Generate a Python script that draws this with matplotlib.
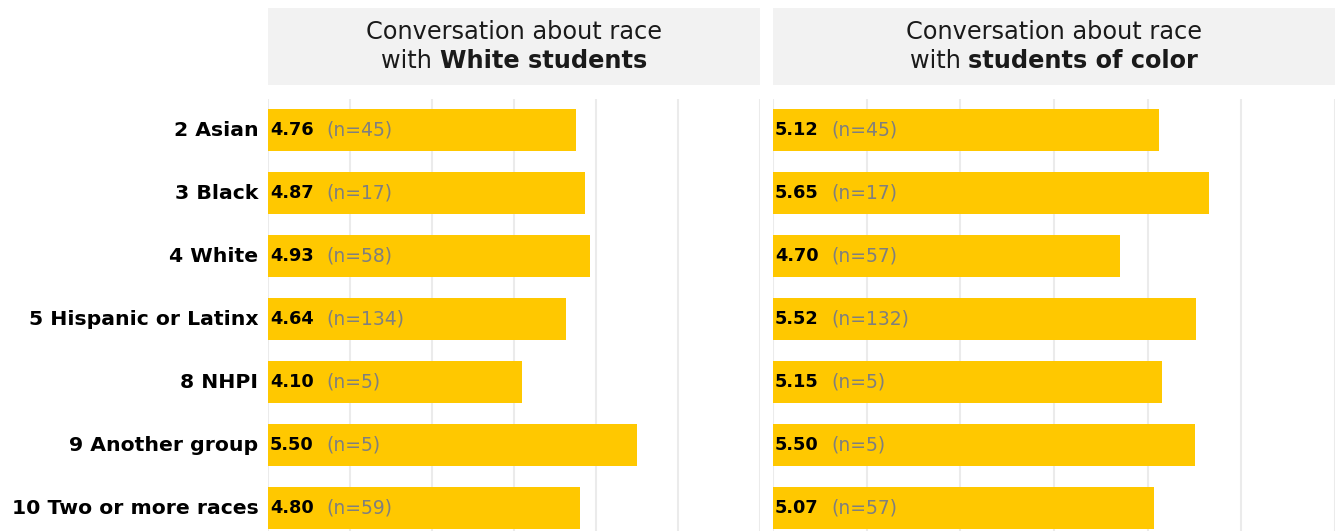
import matplotlib as mpl
import matplotlib.pyplot as plt

mpl.rcParams['font.family'] = ['DejaVu Sans']

# data
groups = ["2 Asian", "3 Black", "4 White", "5 Hispanic or Latinx",
          "8 NHPI", "9 Another group", "10 Two or more races"]
white_means = [4.76, 4.87, 4.93, 4.64, 4.10, 5.50, 4.80]
white_n = [45, 17, 58, 134, 5, 5, 59]
color_means = [5.12, 5.65, 4.70, 5.52, 5.15, 5.50, 5.07]
color_n = [45, 17, 57, 132, 5, 5, 57]
titles = [("Conversation about race", "White students"),
          ("Conversation about race", "students of color")]

BAR = '#FFC800'
STRIP = '#F2F2F2'
GRID = '#EBEBEB'
HEAD_FS = 17.3

W, H = 1338, 531
fig = plt.figure(figsize=(W / 100, H / 100), dpi=100)
renderer = fig.canvas.get_renderer()

def fx(px):
    return px / W

def fy(py):
    return 1 - py / H

panels = [(268, 760), (773, 1335)]
top, bottom = 98.5, 539.5

for i, ((x0, x1), means, ns, (t1, t2)) in enumerate(
        zip(panels, [white_means, color_means], [white_n, color_n], titles)):
    # strip header
    sax = fig.add_axes([fx(x0), fy(85), fx(x1 - x0), 77 / H])
    sax.set_facecolor(STRIP)
    sax.set_xticks([])
    sax.set_yticks([])
    for s in sax.spines.values():
        s.set_visible(False)
    sax.text(0.5, 0.69, t1, ha='center', va='center', fontsize=HEAD_FS,
             color='#1a1a1a', transform=sax.transAxes)
    # second line: regular "with " + bold part, centred together
    a = sax.text(0, 0.31, "with ", ha='left', va='center', fontsize=HEAD_FS,
                 color='#1a1a1a', transform=sax.transAxes)
    b = sax.text(0, 0.31, t2, ha='left', va='center', fontsize=HEAD_FS,
                 fontweight='bold', color='#1a1a1a', transform=sax.transAxes)
    wa = a.get_window_extent(renderer).width
    wb = b.get_window_extent(renderer).width
    total = wa + wb
    start = ((x1 - x0) - total) / 2
    a.set_x(start / (x1 - x0))
    b.set_x((start + wa) / (x1 - x0))

    ax = fig.add_axes([fx(x0), fy(bottom), fx(x1 - x0), (bottom - top) / H])
    ypos = list(range(len(groups)))
    ax.barh(ypos, means, left=0, height=0.68, color=BAR, zorder=2)
    ax.set_xlim(1, 7)
    ax.set_ylim(len(groups) - 0.5, -0.5)
    ax.set_xticks(range(1, 8))
    ax.grid(axis='x', color=GRID, linewidth=1.5, zorder=0)
    ax.grid(axis='y', visible=False)
    ax.tick_params(length=0, labelbottom=False)
    for s in ax.spines.values():
        s.set_visible(False)
    ax.set_yticks(ypos)
    if i == 0:
        ax.set_yticklabels(groups, fontsize=14.7, fontweight='bold', color='black',
                           va='center')
        ax.tick_params(axis='y', pad=7)
    else:
        ax.set_yticklabels([])

    for y, m, n in zip(ypos, means, ns):
        ax.annotate(f"{m:.2f}", (1, y), xytext=(2, 0), textcoords='offset pixels',
                    ha='left', va='center', fontsize=12.8, fontweight='bold',
                    color='black', zorder=3)
        ax.annotate(f"(n={n})", (1, y), xytext=(58, 0), textcoords='offset pixels',
                    ha='left', va='center', fontsize=13.5, color='#7F7F7F', zorder=3)

plt.savefig("out.png", dpi=100)
